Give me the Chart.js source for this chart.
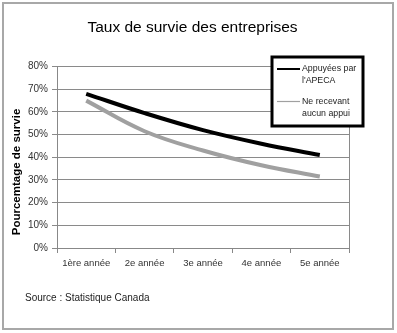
<!DOCTYPE html>
<html>
<head>
<meta charset="utf-8">
<script src="https://cdn.jsdelivr.net/npm/chart.js@4"></script>
<style>
  html, body { margin: 0; padding: 0; background: #fff; }
  #wrap { width: 397px; height: 333px; }
</style>
</head>
<body>
<div id="wrap"><canvas id="survie"></canvas></div>
<script>
// Data
const annees = ['1ère année', '2e année', '3e année', '4e année', '5e année'];
const appuyees = [68, 59.5, 52, 46, 41];
const sansAppui = [65, 51.5, 43, 36.5, 31.5];
const legendeAppuyees = ['Appuyées par', "l'APECA"];
const legendeSansAppui = ['Ne recevant', 'aucun appui'];

const police = "'Liberation Sans', Arial, sans-serif";

// Outer frame, axis title, source line and the boxed legend over the plot
const habillage = {
  id: 'habillage',
  afterDraw(chart) {
    const ctx = chart.ctx;
    ctx.save();
    ctx.strokeStyle = '#a8a8a8';
    ctx.lineWidth = 2;
    ctx.strokeRect(3, 3, 390, 326);

    // y axis title, sitting a bit below the middle of the plot
    ctx.save();
    ctx.translate(17, 172);
    ctx.rotate(-Math.PI / 2);
    ctx.fillStyle = '#000';
    ctx.font = 'bold 11.5px ' + police;
    ctx.textAlign = 'center';
    ctx.textBaseline = 'middle';
    ctx.fillText('Pourcemtage de survie', 0, 0);
    ctx.restore();

    ctx.fillStyle = '#222';
    ctx.font = '10px ' + police;
    ctx.textBaseline = 'middle';
    ctx.textAlign = 'left';
    ctx.fillText('Source : Statistique Canada', 25, 298);

    // legend box
    ctx.fillStyle = '#fff';
    ctx.fillRect(272, 57, 91, 69);
    ctx.strokeStyle = '#000';
    ctx.lineWidth = 3;
    ctx.strokeRect(272, 57, 91, 69);

    const items = [
      { ds: chart.data.datasets[0], y: 69 },
      { ds: chart.data.datasets[1], y: 101.5 }
    ];
    ctx.font = '8.8px ' + police;
    items.forEach(it => {
      ctx.strokeStyle = it.ds.borderColor;
      ctx.lineWidth = it.ds.legendWidth;
      ctx.beginPath();
      ctx.moveTo(277, it.y);
      ctx.lineTo(300, it.y);
      ctx.stroke();
      ctx.fillStyle = '#222';
      it.ds.label.forEach((l, i) => ctx.fillText(l, 302, it.y + i * 12));
    });
    ctx.restore();
  }
};

new Chart(document.getElementById('survie'), {
  type: 'line',
  data: {
    labels: annees,
    datasets: [{
      label: legendeAppuyees,
      data: appuyees,
      borderColor: '#000',
      borderWidth: 4,
      legendWidth: 2,
      pointRadius: 0,
      tension: 0.4
    }, {
      label: legendeSansAppui,
      data: sansAppui,
      borderColor: '#a0a0a0',
      borderWidth: 4,
      legendWidth: 1.2,
      pointRadius: 0,
      tension: 0.4
    }]
  },
  options: {
    responsive: true,
    maintainAspectRatio: false,
    animation: false,
    layout: { padding: { left: 0, right: 12, top: 0, bottom: 0 } },
    plugins: {
      legend: { display: false },
      tooltip: { enabled: false },
      title: {
        display: true,
        text: 'Taux de survie des entreprises',
        color: '#000',
        font: { family: police, size: 15.5, weight: 'normal' },
        padding: { top: 18, bottom: 30 }
      }
    },
    scales: {
      x: {
        offset: true,
        afterFit: s => { s.height = 85; },
        grid: {
          display: true,
          drawOnChartArea: false,
          offset: true,
          tickLength: 5,
          color: '#888'
        },
        border: { color: '#888', width: 1 },
        ticks: {
          color: '#333',
          padding: 5,
          maxRotation: 0,
          font: { family: police, size: 9.5 }
        }
      },
      y: {
        min: 0,
        max: 80,
        afterFit: s => { s.width = 57; },
        grid: { color: '#8a8a8a', tickLength: 5 },
        border: { color: '#888', width: 1 },
        ticks: {
          stepSize: 10,
          color: '#333',
          padding: 4,
          font: { family: police, size: 10 },
          callback: v => v + '%'
        }
      },
      // empty strip on the right that holds the legend margin
      marge: {
        type: 'linear',
        position: 'right',
        display: true,
        afterFit: s => { s.width = 36; },
        grid: { drawOnChartArea: false, drawTicks: false },
        border: { display: false },
        ticks: { display: false }
      }
    }
  },
  plugins: [habillage, {
    // right edge of the plot area
    id: 'bordDroit',
    beforeDatasetsDraw(chart) {
      const { ctx, chartArea: a } = chart;
      ctx.save();
      ctx.strokeStyle = '#8a8a8a';
      ctx.lineWidth = 1;
      ctx.beginPath();
      ctx.moveTo(a.right + 0.5, a.top);
      ctx.lineTo(a.right + 0.5, a.bottom);
      ctx.stroke();
      ctx.restore();
    }
  }]
});
</script>
</body>
</html>
